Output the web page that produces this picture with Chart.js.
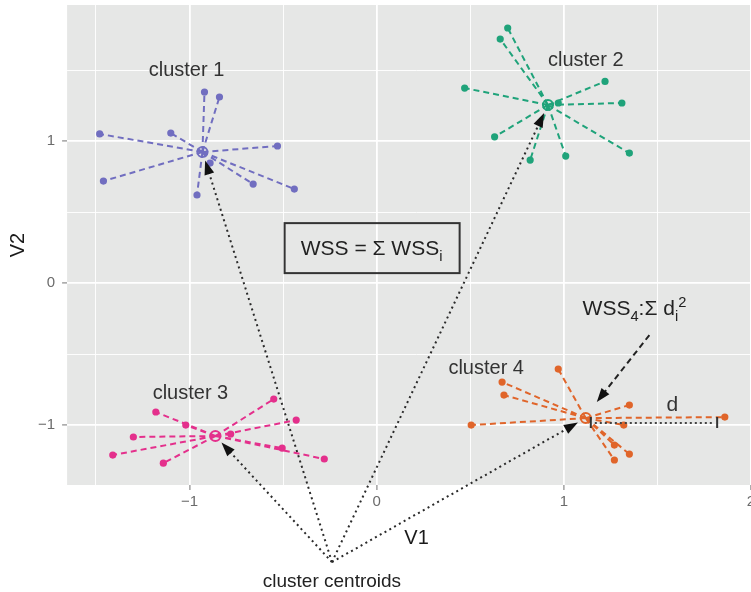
<!DOCTYPE html>
<html>
<head>
<meta charset="utf-8">
<title>k-means WSS</title>
<script src="https://cdn.jsdelivr.net/npm/chart.js@4.4.0/dist/chart.umd.min.js"></script>
<style>
  html, body { margin: 0; padding: 0; background: #fff; overflow: hidden; width: 751px; height: 592px; }
  /* the panel runs a little past the right edge of the window, as in the picture */
  #chart { display: block; }
</style>
</head>
<body>
<canvas id="chart" width="766" height="592"></canvas>
<script>
// Cluster members (V1, V2)
const c1X = [-0.92, -0.84, -1.48, -1.10, -0.53, -1.46, -0.89, -0.66, -0.44, -0.96];
const c1Y = [1.345, 1.31, 1.05, 1.056, 0.965, 0.718, 0.845, 0.697, 0.662, 0.62];
const c2X = [0.70, 0.66, 0.47, 1.22, 1.31, 0.97, 0.63, 1.35, 1.01, 0.82];
const c2Y = [1.796, 1.718, 1.373, 1.42, 1.268, 1.268, 1.03, 0.915, 0.894, 0.866];
const c3X = [-1.18, -1.02, -1.30, -1.41, -1.14, -0.55, -0.43, -0.78, -0.505, -0.28];
const c3Y = [-0.908, -1.0, -1.084, -1.211, -1.268, -0.817, -0.965, -1.063, -1.162, -1.239];
const c4X = [0.97, 0.67, 0.68, 0.505, 1.35, 1.86, 1.32, 1.27, 1.35, 1.27];
const c4Y = [-0.606, -0.697, -0.789, -1.0, -0.859, -0.944, -1.0, -1.141, -1.204, -1.246];

// Centroids of clusters 1..4
const centroidX = [-0.931, 0.915, -0.862, 1.117];
const centroidY = [0.923, 1.254, -1.077, -0.951];

const clusterNames = ['cluster 1', 'cluster 2', 'cluster 3', 'cluster 4'];
const clusterColors = ['#716ec0', '#1fa37a', '#e4308c', '#e0652a'];

// Tick positions (grid lines) and axis limits
const xTicks = [-1.5, -1, -0.5, 0, 0.5, 1, 1.5, 2];
const yTicks = [-1, -0.5, 0, 0.5, 1, 1.5];
const xRange = [-1.654, 2.08];
const yRange = [-1.422, 1.958];

// Annotation anchors, in data units
const clusterLabelAt = [[-1.016, 1.50], [1.117, 1.565], [-0.995, -0.78], [0.585, -0.60]];
const centroidsLabelAt = [-0.239, -1.965];
const wssBoxAt = [-0.027, 0.246];
const wss4LabelAt = [1.10, -0.225];
const wss4ArrowFrom = [1.457, -0.366];
const wss4ArrowTo = [1.176, -0.838];
const dFrom = [1.144, -0.986];
const dTo = [1.819, -0.986];
const dLabelAt = [1.58, -0.86];

const FONT = '"Liberation Sans", Arial, Helvetica, sans-serif';
Chart.defaults.font.family = FONT;

function spokes(cx, cy, xs, ys) {
  const out = [];
  xs.forEach((x, i) => {
    out.push({x: cx, y: cy}, {x: x, y: ys[i]}, {x: null, y: null});
  });
  return out;
}

function pts(xs, ys) {
  return xs.map((x, i) => ({x: x, y: ys[i]}));
}

const allX = [c1X, c2X, c3X, c4X];
const allY = [c1Y, c2Y, c3Y, c4Y];

const datasets = [];
allX.forEach((xs, k) => {
  datasets.push({
    data: spokes(centroidX[k], centroidY[k], xs, allY[k]),
    showLine: true,
    spanGaps: false,
    borderColor: clusterColors[k],
    borderWidth: 2,
    borderDash: [6, 4],
    pointRadius: 0
  });
});
allX.forEach((xs, k) => {
  datasets.push({
    data: pts(xs, allY[k]),
    pointRadius: 3.6,
    pointBackgroundColor: clusterColors[k],
    pointBorderWidth: 0
  });
  datasets.push({
    data: [{x: centroidX[k], y: centroidY[k]}],
    pointRadius: 5,
    pointBackgroundColor: 'rgba(0,0,0,0)',
    pointBorderColor: clusterColors[k],
    pointBorderWidth: 2
  });
});

// grey ggplot-like panel
const panel = {
  id: 'panel',
  beforeDraw(chart) {
    const {ctx, chartArea: a} = chart;
    ctx.save();
    ctx.fillStyle = '#e6e7e6';
    ctx.fillRect(a.left, a.top, a.right - a.left, a.bottom - a.top);
    ctx.restore();
  }
};

function arrowHead(ctx, tx, ty, ang, len, half) {
  const bx = tx - Math.cos(ang) * len, by = ty - Math.sin(ang) * len;
  ctx.beginPath();
  ctx.moveTo(tx, ty);
  ctx.lineTo(bx + Math.sin(ang) * half, by - Math.cos(ang) * half);
  ctx.lineTo(bx - Math.sin(ang) * half, by + Math.cos(ang) * half);
  ctx.closePath();
  ctx.fill();
}

// draw text pieces with sub/superscripts, starting at x, baseline y
function richText(ctx, parts, x, y, size) {
  parts.forEach(p => {
    const s = p.sub || p.sup ? size * 0.7 : size;
    ctx.font = s + 'px ' + FONT;
    const dy = p.sub ? size * 0.3 : (p.sup ? -size * 0.4 : 0);
    ctx.fillText(p.t, x, y + dy);
    x += ctx.measureText(p.t).width;
  });
  return x;
}
function richWidth(ctx, parts, size) {
  let w = 0;
  parts.forEach(p => {
    const s = p.sub || p.sup ? size * 0.7 : size;
    ctx.font = s + 'px ' + FONT;
    w += ctx.measureText(p.t).width;
  });
  return w;
}

const annotate = {
  id: 'annotate',
  afterDatasetsDraw(chart) {
    const {ctx} = chart;
    const sx = chart.scales.x, sy = chart.scales.y;
    const px = v => sx.getPixelForValue(v);
    const py = v => sy.getPixelForValue(v);
    ctx.save();

    // cluster labels
    ctx.fillStyle = '#333';
    ctx.font = '20px ' + FONT;
    ctx.textAlign = 'center';
    ctx.textBaseline = 'middle';
    clusterLabelAt.forEach((p, k) => ctx.fillText(clusterNames[k], px(p[0]), py(p[1])));

    // dotted arrows to centroids
    const ox = px(centroidsLabelAt[0]), oy = py(centroidsLabelAt[1]);
    ctx.strokeStyle = '#2a2a2a';
    ctx.fillStyle = '#111';
    ctx.lineWidth = 2;
    centroidX.forEach((cx, k) => {
      const tx0 = px(cx), ty0 = py(centroidY[k]);
      const ang = Math.atan2(ty0 - oy, tx0 - ox);
      const len = Math.hypot(tx0 - ox, ty0 - oy) - 9;
      const tx = ox + Math.cos(ang) * len, ty = oy + Math.sin(ang) * len;
      ctx.setLineDash([2, 3.5]);
      ctx.beginPath();
      ctx.moveTo(ox, oy);
      ctx.lineTo(tx - Math.cos(ang) * 10, ty - Math.sin(ang) * 10);
      ctx.stroke();
      ctx.setLineDash([]);
      arrowHead(ctx, tx, ty, ang, 14, 5);
    });
    ctx.fillStyle = '#222';
    ctx.font = '19px ' + FONT;
    ctx.textAlign = 'center';
    ctx.textBaseline = 'alphabetic';
    ctx.fillText('cluster centroids', ox, oy + 25);

    // WSS box
    const bx = px(wssBoxAt[0]), by = py(wssBoxAt[1]);
    ctx.strokeStyle = '#333';
    ctx.lineWidth = 2;
    ctx.setLineDash([]);
    ctx.strokeRect(bx - 87, by - 25, 175, 50);
    const wss = [{t: 'WSS = \u03A3 WSS'}, {t: 'i', sub: true}];
    ctx.fillStyle = '#222';
    ctx.textAlign = 'left';
    ctx.textBaseline = 'alphabetic';
    const ww = richWidth(ctx, wss, 21);
    richText(ctx, wss, bx - ww / 2, by + 7, 21);

    // WSS4 label and dashed arrow
    const wss4 = [{t: 'WSS'}, {t: '4', sub: true}, {t: ':\u03A3 d'}, {t: 'i', sub: true}, {t: '2', sup: true}];
    richText(ctx, wss4, px(wss4LabelAt[0]), py(wss4LabelAt[1]), 21);
    const ax0 = px(wss4ArrowFrom[0]), ay0 = py(wss4ArrowFrom[1]);
    const ax1 = px(wss4ArrowTo[0]), ay1 = py(wss4ArrowTo[1]);
    const a2 = Math.atan2(ay1 - ay0, ax1 - ax0);
    ctx.strokeStyle = '#222';
    ctx.lineWidth = 2;
    ctx.setLineDash([6, 4]);
    ctx.beginPath();
    ctx.moveTo(ax0, ay0);
    ctx.lineTo(ax1 - Math.cos(a2) * 10, ay1 - Math.sin(a2) * 10);
    ctx.stroke();
    ctx.setLineDash([]);
    ctx.fillStyle = '#111';
    arrowHead(ctx, ax1, ay1, a2, 14, 5);

    // distance d
    const d0 = px(dFrom[0]), d1 = px(dTo[0]), dy = py(dFrom[1]);
    ctx.strokeStyle = '#444';
    ctx.lineWidth = 2;
    ctx.setLineDash([2, 3]);
    ctx.beginPath();
    ctx.moveTo(d0 + 4, dy);
    ctx.lineTo(d1 - 3, dy);
    ctx.stroke();
    ctx.setLineDash([]);
    ctx.strokeStyle = '#333';
    ctx.beginPath();
    ctx.moveTo(d0, dy - 6); ctx.lineTo(d0, dy + 5);
    ctx.moveTo(d1, dy - 6); ctx.lineTo(d1, dy + 5);
    ctx.stroke();
    ctx.fillStyle = '#333';
    ctx.font = '21px ' + FONT;
    ctx.textAlign = 'center';
    ctx.textBaseline = 'middle';
    ctx.fillText('d', px(dLabelAt[0]), py(dLabelAt[1]));

    ctx.restore();
  }
};

function fmt(v) {
  if (!Number.isInteger(v)) return '';
  return v < 0 ? '\u2212' + Math.abs(v) : String(v);
}

const isMajor = c => c.tick && Number.isInteger(c.tick.value);

new Chart(document.getElementById('chart'), {
  type: 'scatter',
  data: {datasets: datasets},
  options: {
    responsive: false,
    animation: false,
    layout: {autoPadding: false, padding: {left: 0, top: 5, right: 0, bottom: 42}},
    plugins: {legend: {display: false}, tooltip: {enabled: false}},
    scales: {
      x: {
        min: xRange[0], max: xRange[1],
        afterBuildTicks: s => { s.ticks = xTicks.map(v => ({value: v})); },
        afterFit: s => { s.paddingLeft = 0; s.paddingRight = 0; },
        border: {display: false},
        grid: {
          color: '#ffffff',
          lineWidth: c => isMajor(c) ? 1.8 : 0.9,
          tickColor: c => isMajor(c) ? '#8a8a8a' : 'rgba(0,0,0,0)',
          tickLength: 5,
          tickWidth: 1.2
        },
        ticks: {
          autoSkip: false, maxRotation: 0, padding: 3,
          color: '#6b6b6b', font: {size: 15},
          callback: v => fmt(v)
        },
        title: {display: true, text: 'V1', color: '#1a1a1a', font: {size: 20}, padding: {top: 12, bottom: 0}}
      },
      y: {
        min: yRange[0], max: yRange[1],
        afterBuildTicks: s => { s.ticks = yTicks.map(v => ({value: v})); },
        afterFit: s => { s.paddingTop = 0; s.paddingBottom = 0; },
        border: {display: false},
        grid: {
          color: '#ffffff',
          lineWidth: c => isMajor(c) ? 1.8 : 0.9,
          tickColor: c => isMajor(c) ? '#8a8a8a' : 'rgba(0,0,0,0)',
          tickLength: 5,
          tickWidth: 1.2
        },
        ticks: {
          autoSkip: false, padding: 7,
          color: '#6b6b6b', font: {size: 15},
          callback: v => fmt(v)
        },
        title: {display: true, text: 'V2', color: '#1a1a1a', font: {size: 20}, padding: {top: 6, bottom: 1}}
      }
    }
  },
  plugins: [panel, annotate]
});
</script>
</body>
</html>
